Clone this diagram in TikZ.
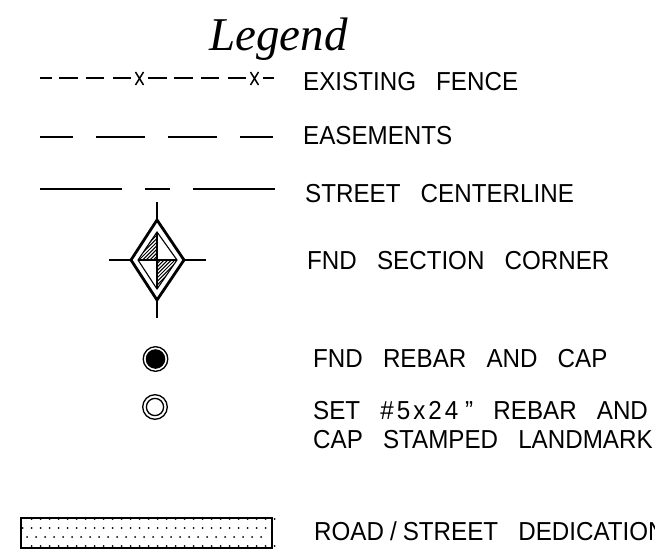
\documentclass[tikz,border=0pt]{standalone}
\usepackage{fontspec}
\setmainfont{Liberation Sans}[WordSpace=3,FakeStretch=0.93]
\newfontfamily\titlefont{Liberation Serif}
\tikzset{
  legendtext/.style={anchor=base west,inner sep=0pt,font=\fontsize{26}{26}\selectfont},
  thinline/.style={line width=1.7pt},
  thickline/.style={line width=2.8pt,miter limit=10},
}
\begin{document}
\begin{tikzpicture}[x=1pt,y=-1pt]
    \useasboundingbox (0,0) rectangle (655,553);
    \node[anchor=base west,inner sep=0pt,font=\titlefont\itshape\fontsize{47}{47}\selectfont] (title) at (209,51) {Legend};

    % fence
    \foreach \a/\b in {40/52,59/78,86/104,113/131,148/167,174/193,201/219,228/246,263/274}
    \draw[thinline] (\a,78) -- (\b,78);
    \foreach \x in {139.5,254.5}
    \draw[line width=1.5pt] (\x-4,72) -- (\x+4,85) (\x-4,85) -- (\x+4,72);
    \node[legendtext] (fence) at (303,91) {EXISTING FENCE};

    % easements
    \foreach \a/\b in {40/73,96/145,168/217,240/273}
    \draw[thinline] (\a,137) -- (\b,137);
    \node[legendtext] (easements) at (303,145) {EASEMENTS};

    % centerline
    \foreach \a/\b in {40/122,145/170,193/275}
    \draw[thinline] (\a,189) -- (\b,189);
    \node[legendtext] (centerline) at (305,203) {STREET CENTERLINE};

    % section corner
    \draw[line width=1.2pt] (109,260) -- (131,260) (184,260) -- (206,260) (157,202) -- (157,220) (157,300) -- (157,318);
    \begin{scope}
        \clip (157,232) -- (138,260) -- (157,260) -- (177,260) -- (157,289) -- (157,260) -- cycle;
        \foreach \k in {-14,...,16}
        \draw[line width=1pt] (157+\k*3.6-40,300) -- (157+\k*3.6+40,220);
    \end{scope}
    \draw[thickline] (157,220) -- (184,260) -- (157,300) -- (131,260) -- cycle;
    \draw[line width=1.1pt] (157,232) -- (177,260) -- (157,289) -- (138,260) -- cycle;
    \draw[line width=1.1pt] (138,260) -- (177,260) (157,232) -- (157,289);
    \node[legendtext] (corner) at (307,269) {FND SECTION CORNER};

    % rebar
    \draw[line width=1.3pt] (155.5,359) circle[radius=12.3];
    \fill (155.5,359) circle[radius=9.8];
    \node[legendtext] (rebar) at (313,367) {FND REBAR AND CAP};
    \draw[line width=1.3pt] (155,407) circle[radius=12.3];
    \draw[line width=1.3pt] (155,407) circle[radius=8.6];
    \node[legendtext] (setrebar) at (313,419) {SET \#\kern3pt 5\kern3pt x\kern3pt 2\kern3pt 4\kern7pt ” REBAR AND};
    \node[legendtext] (stamped) at (313,448) {CAP STAMPED LANDMARK};

    % dedication
    \foreach \i in {0,...,27}
    \foreach \y in {519,546}
    \fill (31.7+\i*9,\y) circle[radius=1];
    \foreach \i in {0,...,27}
    \fill (22.7+\i*9,528) circle[radius=1];
    \foreach \i in {0,...,26}
    \fill (27.2+\i*9,537) circle[radius=1];
    \draw[line width=2pt] (21,518) rectangle (272,548);
    \node[legendtext] (road) at (314,540) {ROAD\kern6pt /\kern6pt STREET DEDICATION};
\end{tikzpicture}
\end{document}
